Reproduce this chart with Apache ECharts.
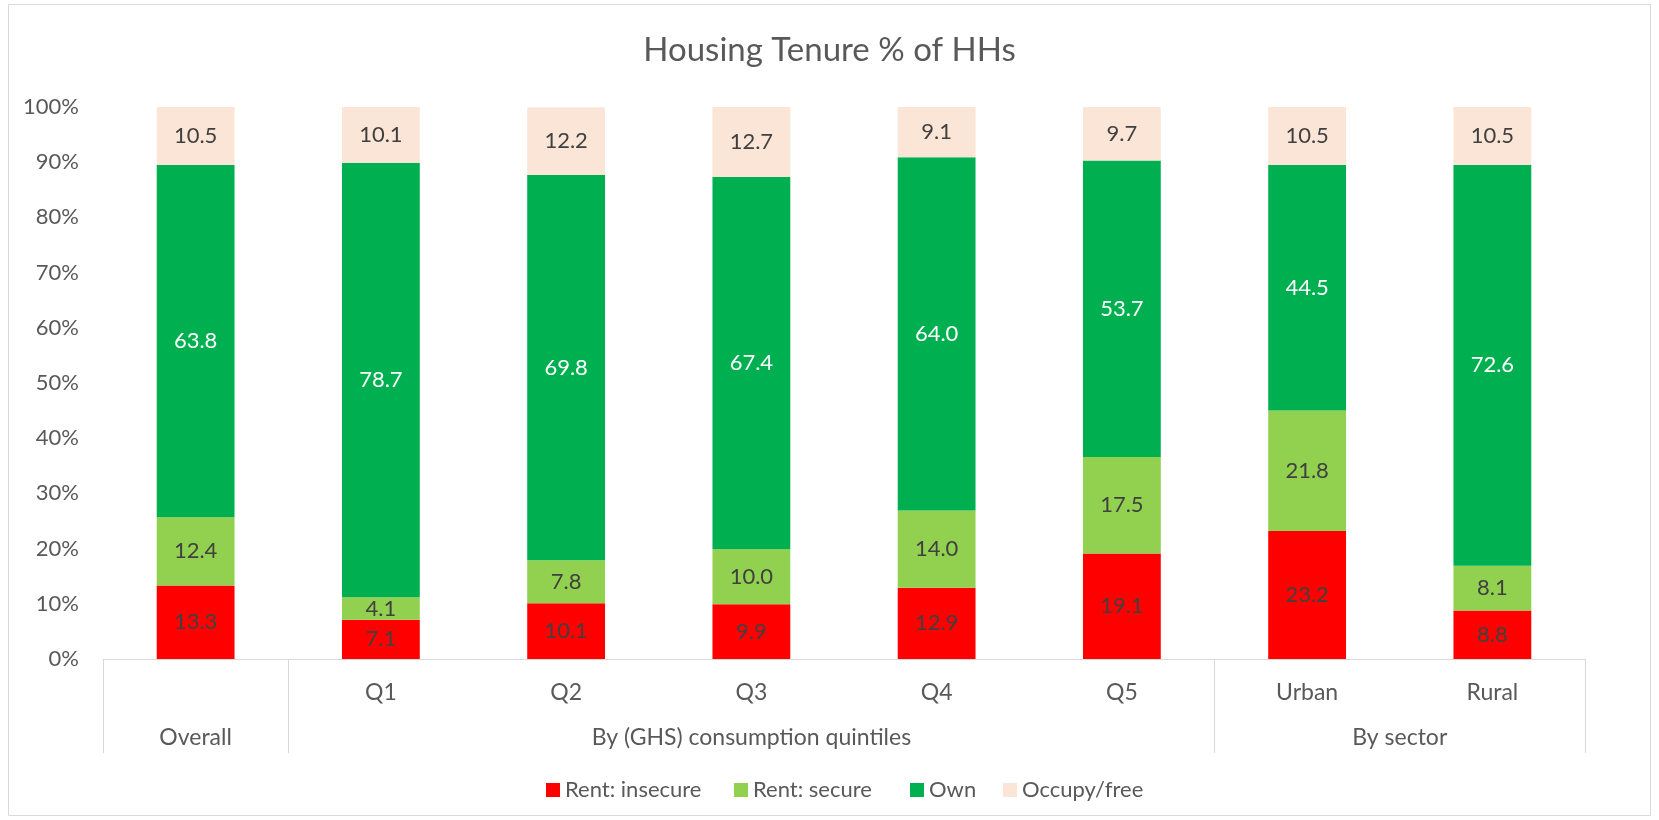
<!DOCTYPE html>
<html>
<head>
<meta charset="utf-8">
<script src="https://cdn.jsdelivr.net/npm/echarts@6/dist/echarts.min.js"></script>
<style>
html,body{margin:0;padding:0;background:#fff;}
#chart{width:1659px;height:820px;}
</style>
</head>
<body>
<div id="chart"></div>
<script>
const title = 'Housing Tenure % of HHs';
const categories = ['Overall', 'Q1', 'Q2', 'Q3', 'Q4', 'Q5', 'Urban', 'Rural'];
const groupLabels = ['Overall', 'By (GHS) consumption quintiles', 'By sector'];
const groupSizes = [1, 5, 2];
const seriesNames = ['Rent: insecure', 'Rent: secure', 'Own', 'Occupy/free'];
const rentInsecure = [13.3, 7.1, 10.1, 9.9, 12.9, 19.1, 23.2, 8.8];
const rentSecure = [12.4, 4.1, 7.8, 10.0, 14.0, 17.5, 21.8, 8.1];
const own = [63.8, 78.7, 69.8, 67.4, 64.0, 53.7, 44.5, 72.6];
const occupyFree = [10.5, 10.1, 12.2, 12.7, 9.1, 9.7, 10.5, 10.5];
const yTicks = [0, 10, 20, 30, 40, 50, 60, 70, 80, 90, 100];

const FONT = 'Lato';
const FS = 22;
const colors = ['#FF0000', '#92D050', '#00B050', '#FBE5D6'];
const labelColors = ['#404040', '#404040', '#ffffff', '#404040'];
const seriesData = [rentInsecure, rentSecure, own, occupyFree];
const legendLefts = [546, 734, 910, 1003];

const groupStarts = [];
let acc = 0;
groupSizes.forEach(s => { groupStarts.push(acc); acc += s; });
const groupCenters = [];
acc = 0;
groupSizes.forEach(s => { groupCenters.push(acc + s / 2); acc += s; });

const chart = echarts.init(document.getElementById('chart'));
chart.setOption({
  backgroundColor: '#ffffff',
  animation: false,
  textStyle: { fontFamily: FONT },
  title: {
    text: title,
    left: 'center',
    top: 29,
    textStyle: { fontFamily: FONT, fontSize: 33, fontWeight: 'normal', color: '#595959' }
  },
  graphic: [{
    type: 'rect',
    shape: { x: 8.5, y: 4.5, width: 1642, height: 811 },
    style: { fill: 'none', stroke: '#D9D9D9', lineWidth: 1 },
    silent: true,
    z: -1
  }],
  legend: seriesNames.map((n, i) => ({
    top: 779,
    left: legendLefts[i],
    itemWidth: 14,
    itemHeight: 14,
    icon: 'rect',
    padding: 0,
    data: [n],
    textStyle: { fontFamily: FONT, fontSize: FS, color: '#595959' }
  })),
  grid: { left: 103, right: 74, top: 107, bottom: 161 },
  xAxis: [{
    type: 'category',
    data: categories,
    position: 'bottom',
    axisLine: { show: true, lineStyle: { color: '#D9D9D9', width: 1 } },
    axisTick: {
      show: true,
      length: 94,
      interval: (idx) => groupStarts.indexOf(idx) >= 0,
      lineStyle: { color: '#D9D9D9', width: 1 }
    },
    axisLabel: {
      interval: 0,
      margin: 22,
      fontFamily: FONT,
      fontSize: 23,
      color: '#595959',
      formatter: (v, i) => (groupStarts.indexOf(i) >= 0 && groupSizes[groupStarts.indexOf(i)] === 1) ? '' : v
    }
  }, {
    type: 'value',
    min: 0,
    max: categories.length,
    interval: 0.5,
    position: 'bottom',
    offset: 0,
    axisLine: { show: false },
    axisTick: { show: false },
    splitLine: { show: false },
    axisLabel: {
      show: true,
      margin: 67,
      fontFamily: FONT,
      fontSize: 23,
      color: '#595959',
      showMinLabel: true,
      showMaxLabel: true,
      formatter: (v) => {
        const k = groupCenters.findIndex(c => Math.abs(c - v) < 1e-6);
        return k >= 0 ? groupLabels[k] : '';
      }
    }
  }],
  yAxis: {
    type: 'value',
    min: 0,
    max: 100,
    interval: 10,
    axisLine: { show: false },
    axisTick: { show: false },
    splitLine: { show: false },
    axisLabel: {
      margin: 24,
      fontFamily: FONT,
      fontSize: FS,
      color: '#595959',
      formatter: (v) => yTicks.indexOf(v) >= 0 ? v + '%' : ''
    }
  },
  series: seriesNames.map((name, i) => ({
    name: name,
    type: 'bar',
    stack: 'total',
    xAxisIndex: 0,
    barWidth: '42%',
    data: seriesData[i],
    itemStyle: { color: colors[i] },
    label: {
      show: true,
      position: 'inside',
      fontFamily: FONT,
      fontSize: FS,
      color: labelColors[i],
      formatter: (p) => p.value.toFixed(1)
    }
  }))
});
</script>
</body>
</html>
